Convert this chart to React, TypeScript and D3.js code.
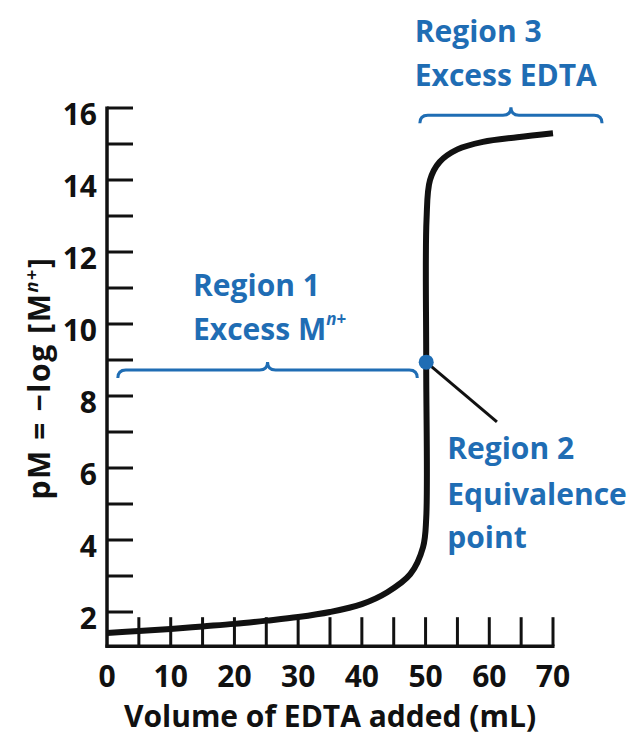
import React from "react";
import * as d3 from "d3";

// Titration curve
const volume = [0, 5, 10, 15, 20, 25, 30, 35, 40, 44, 47.6, 49.6, 50.1, 50.1, 50.15, 50.7, 52.2, 55, 59, 64.4, 70];
const pM = [1.42, 1.47, 1.53, 1.6, 1.67, 1.76, 1.86, 2.0, 2.22, 2.55, 3.05, 3.8, 4.6, 8.94, 12.9, 14.0, 14.5, 14.85, 15.06, 15.19, 15.3];

const xTickLabels = [0, 10, 20, 30, 40, 50, 60, 70];
const xMinorTicks = [5, 10, 15, 20, 25, 30, 35, 40, 45, 50, 55, 60, 65, 70];
const yTickLabels = [2, 4, 6, 8, 10, 12, 14, 16];
const yMinorTicks = [2, 3, 4, 5, 6, 7, 8, 9, 10, 11, 12, 13, 14, 15, 16];

const equivalencePoint = { v: 50.1, p: 8.94 };
const leaderEnd = { v: 61.2, p: 7.28 };

// braces: [startVol, endVol, pM level]
const brace1 = [1.7, 48.7, 8.72];
const brace3 = [49.1, 77.7, 15.8];

const BLUE = "#1f6db4";
const INK = "#111";
const FONT = "'Open Sans', sans-serif";

export default function App() {
  const W = 627, H = 736;
  const x = d3.scaleLinear().domain([0, 70]).range([107, 553]);
  const y = d3.scaleLinear().domain([0, 16]).range([684, 108]);
  const yAxisMin = 1.05;

  const pts: [number, number][] = volume.map((v, i) => [x(v), y(pM[i])]);
  const line = d3.line().curve(d3.curveCatmullRom.alpha(0.5))(pts) || "";

  const bracePath = (b: number[]) => {
    const x0 = x(b[0]), x1 = x(b[1]), yy = y(b[2]);
    const xm = (x0 + x1) / 2;
    const r = 8;
    return `M${x0},${yy + r} Q${x0},${yy} ${x0 + r},${yy} L${xm - r},${yy} Q${xm},${yy} ${xm},${yy - r} Q${xm},${yy} ${xm + r},${yy} L${x1 - r},${yy} Q${x1},${yy} ${x1},${yy + r}`;
  };

  const axisY = y(yAxisMin);
  const fs = 30;

  return (
    <svg width={W} height={H} style={{ position: "absolute", left: 0, top: 0, background: "#fff" }} fontFamily={FONT} fontWeight={700}>
      {/* y axis */}
      <line x1={x(0)} x2={x(0)} y1={y(16) - 1.5} y2={axisY + 1.5} stroke={INK} strokeWidth={3.5} />
      {yMinorTicks.map((t) => (
        <line key={"yt" + t} x1={x(0)} x2={x(0) + 26} y1={y(t)} y2={y(t)} stroke={INK} strokeWidth={3} />
      ))}
      {yTickLabels.map((t) => (
        <text key={"yl" + t} x={x(0) - 10} y={y(t) + 17} textAnchor="end" fontSize={fs} fill={INK}>
          {t}
        </text>
      ))}
      {/* x axis */}
      <line x1={x(0) - 1.5} x2={x(70) + 1.5} y1={axisY} y2={axisY} stroke={INK} strokeWidth={3.5} />
      {xMinorTicks.map((t) => (
        <line key={"xt" + t} x1={x(t)} x2={x(t)} y1={axisY} y2={axisY - 29} stroke={INK} strokeWidth={3} />
      ))}
      {xTickLabels.map((t) => (
        <text key={"xl" + t} x={x(t)} y={axisY + 41} textAnchor="middle" fontSize={fs} fill={INK}>
          {t}
        </text>
      ))}
      <text x={(x(0) + x(70)) / 2} y={727} textAnchor="middle" fontSize={fs} fill={INK}>
        Volume of EDTA added (mL)
      </text>
      <text transform={`translate(50, ${y(8.5)}) rotate(-90)`} textAnchor="middle" fontSize={fs} fill={INK} letterSpacing={1.6}>
        pM = −log [M
        <tspan fontSize={18} dy={-12} fontStyle="italic">n</tspan>
        <tspan fontSize={18}>+</tspan>
        <tspan dy={12}>]</tspan>
      </text>

      {/* curve */}
      <path d={line} fill="none" stroke={INK} strokeWidth={6} strokeLinecap="butt" />

      {/* braces */}
      <path d={bracePath(brace1)} fill="none" stroke={BLUE} strokeWidth={3} />
      <path d={bracePath(brace3)} fill="none" stroke={BLUE} strokeWidth={3} />

      {/* equivalence point */}
      <line x1={x(equivalencePoint.v)} y1={y(equivalencePoint.p)} x2={x(leaderEnd.v)} y2={y(leaderEnd.p)} stroke={INK} strokeWidth={3} />
      <circle cx={x(equivalencePoint.v)} cy={y(equivalencePoint.p)} r={7.5} fill={BLUE} />

      {/* annotations */}
      <g fill={BLUE} fontSize={fs}>
        <text x={x(13.5)} y={y(10.78)}>Region 1</text>
        <text x={x(13.5)} y={y(9.56)}>
          Excess M
          <tspan fontSize={17} dy={-15} fontStyle="italic">n</tspan>
          <tspan fontSize={17}>+</tspan>
        </text>
        <text x={x(53.4)} y={y(6.25)}>Region 2</text>
        <text x={x(53.4)} y={y(4.97)}>Equivalence</text>
        <text x={x(53.4)} y={y(3.78)}>point</text>
        <text x={x(48.3)} y={y(17.83)}>Region 3</text>
        <text x={x(48.3)} y={y(16.61)}>Excess EDTA</text>
      </g>
    </svg>
  );
}
